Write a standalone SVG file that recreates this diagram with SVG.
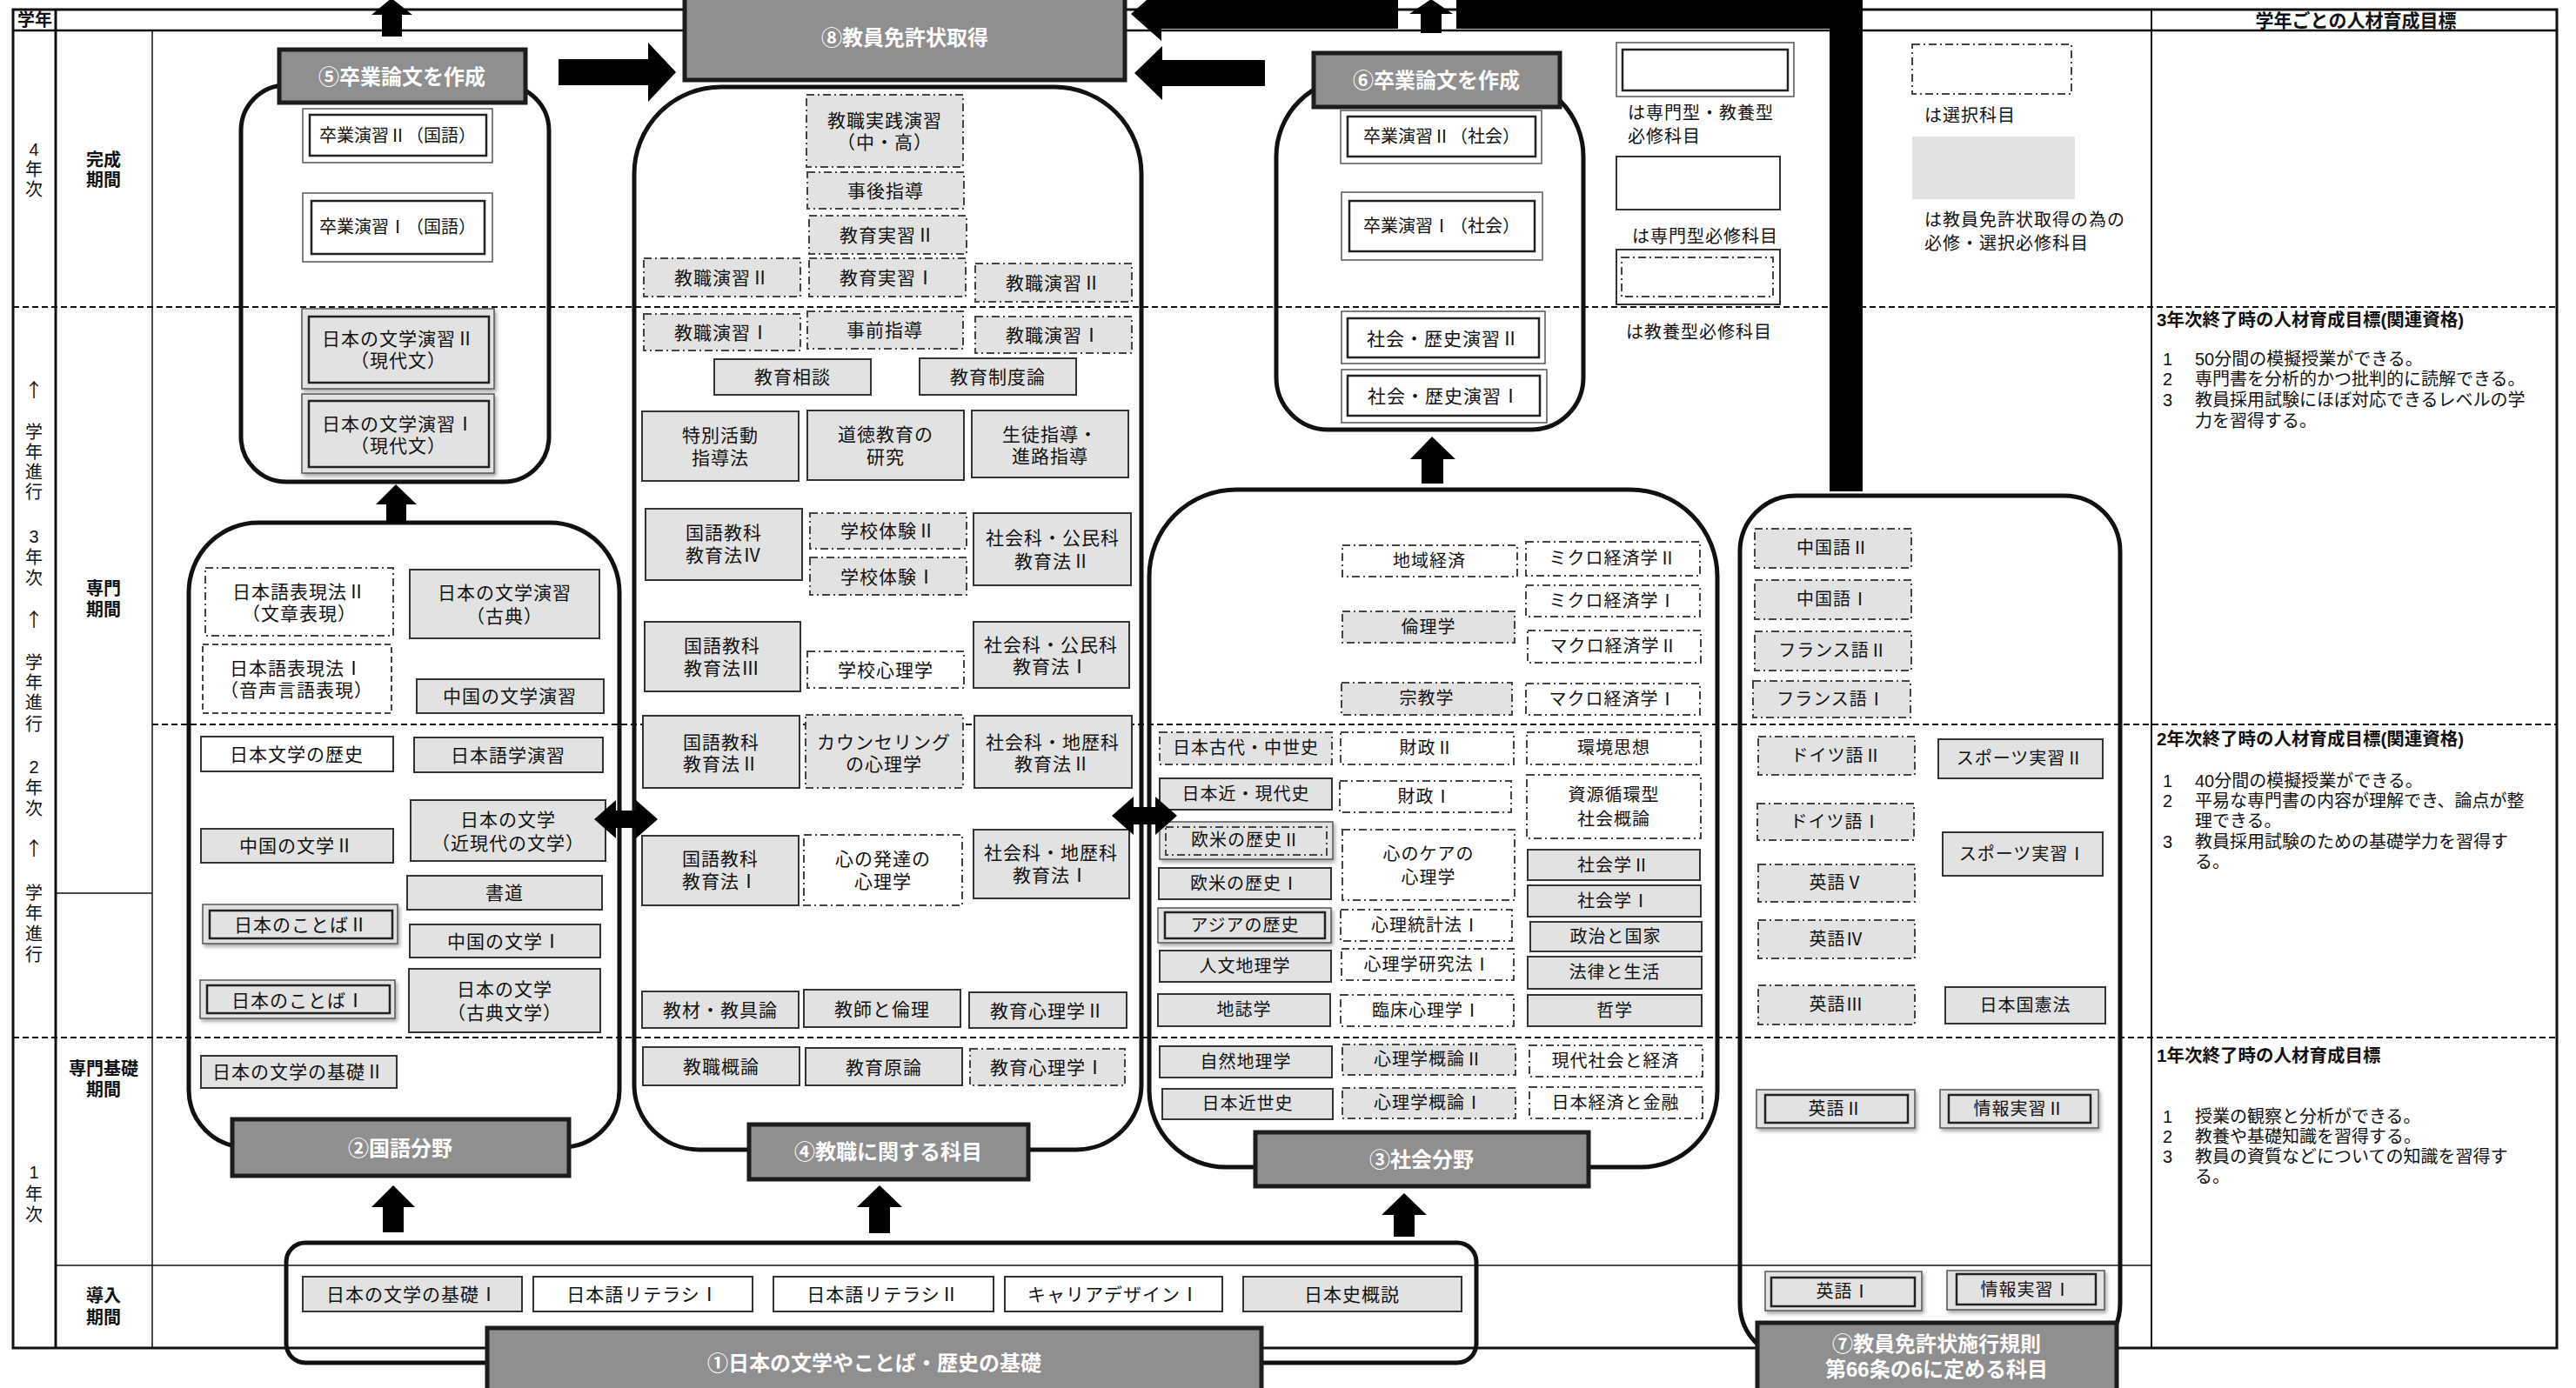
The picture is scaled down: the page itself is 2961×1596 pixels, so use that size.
<svg xmlns="http://www.w3.org/2000/svg" width="2961" height="1596" viewBox="0 0 2961 1596">
<style>
text{font-family:"Liberation Sans","Noto Sans CJK JP",sans-serif;fill:#111}
.t{font-size:21px;text-anchor:middle;dominant-baseline:central;letter-spacing:1px}
.s{font-size:20px;text-anchor:middle;dominant-baseline:central;letter-spacing:1px}
.g{fill:#e1e2e1;stroke:#333;stroke-width:2}
.w{fill:#fff;stroke:#333;stroke-width:2}
.gd{fill:#e1e2e1;stroke:#444;stroke-width:2;stroke-dasharray:9 4 2 4}
.wd{fill:#fff;stroke:#444;stroke-width:2;stroke-dasharray:9 4 2 4}
.wdash{fill:#fff;stroke:#444;stroke-width:2;stroke-dasharray:7 4}
.o{fill:#fff;stroke:#555;stroke-width:1.5}
.og{fill:#e1e2e1;stroke:#555;stroke-width:1.5}
.in{fill:none;stroke:#222;stroke-width:2.5}
.ind{fill:none;stroke:#444;stroke-width:2;stroke-dasharray:9 4 2 4}
.dk{fill:#8f8f8f;stroke:#1c1c1c;stroke-width:5}
.tw{font-size:24px;font-weight:700;fill:#fff;text-anchor:middle;dominant-baseline:central}
.ct{fill:none;stroke:#111;stroke-width:5}
.ln{stroke:#111;stroke-width:1.5;fill:none}
.lb{stroke:#111;stroke-width:3;fill:none}
.dl{stroke:#111;stroke-width:2;stroke-dasharray:7 4;fill:none}
.ar{fill:#000}
.lab{font-size:20px;text-anchor:middle;dominant-baseline:central}
.up{font-family:"Noto Sans CJK JP",sans-serif;font-size:22px}
.labb{font-size:20px;font-weight:700;text-anchor:middle;dominant-baseline:central}
.goal{font-size:20px;dominant-baseline:central}
.goalh{font-size:20.5px;font-weight:700;dominant-baseline:central}
.leg{font-size:20px;dominant-baseline:central;letter-spacing:1px}
</style>
<defs>
<filter id="sh" x="-10%" y="-10%" width="130%" height="140%"><feDropShadow dx="2" dy="3" stdDeviation="2" flood-opacity="0.35"/></filter>
</defs>
<rect width="2961" height="1596" fill="#fff"/>

<g id="table">
<rect x="15" y="11" width="2924" height="1539" fill="none" stroke="#111" stroke-width="3"/>
<line x1="15" y1="35" x2="2939" y2="35" stroke="#111" stroke-width="2.5"/>
<line x1="64" y1="11" x2="64" y2="1550" class="lb"/>
<line x1="175" y1="35" x2="175" y2="1550" class="ln"/>
<line x1="2473" y1="11" x2="2473" y2="1550" stroke="#111" stroke-width="2"/>
<line x1="15" y1="353" x2="2939" y2="353" class="dl"/>
<line x1="175" y1="833" x2="2939" y2="833" class="dl"/>
<line x1="15" y1="1193" x2="2939" y2="1193" class="dl"/>
<line x1="64" y1="1027" x2="175" y2="1027" class="ln"/>
<line x1="64" y1="1455" x2="2473" y2="1455" class="ln"/>
<text class="labb" x="40" y="23">学年</text>
<text class="labb" x="2708" y="23" style="font-size:21px">学年ごとの人材育成目標</text>
<text class="lab"><tspan x="39" y="172">4</tspan><tspan x="39" y="195">年</tspan><tspan x="39" y="218">次</tspan></text>
<text class="lab"><tspan class="up" x="39" y="446">↑</tspan><tspan x="39" y="497">学</tspan><tspan x="39" y="520">年</tspan><tspan x="39" y="543">進</tspan><tspan x="39" y="566">行</tspan><tspan x="39" y="617">3</tspan><tspan x="39" y="641">年</tspan><tspan x="39" y="665">次</tspan><tspan class="up" x="39" y="710">↑</tspan><tspan x="39" y="762">学</tspan><tspan x="39" y="785">年</tspan><tspan x="39" y="808">進</tspan><tspan x="39" y="833">行</tspan><tspan x="39" y="882">2</tspan><tspan x="39" y="906">年</tspan><tspan x="39" y="930">次</tspan><tspan class="up" x="39" y="973">↑</tspan><tspan x="39" y="1027">学</tspan><tspan x="39" y="1050">年</tspan><tspan x="39" y="1074">進</tspan><tspan x="39" y="1098">行</tspan></text>
<text class="lab"><tspan x="39" y="1348">1</tspan><tspan x="39" y="1373">年</tspan><tspan x="39" y="1397">次</tspan></text>
<text class="labb"><tspan x="119" y="184">完成</tspan><tspan x="119" y="207">期間</tspan></text>
<text class="labb"><tspan x="119" y="677">専門</tspan><tspan x="119" y="701">期間</tspan></text>
<text class="labb"><tspan x="119" y="1229">専門基礎</tspan><tspan x="119" y="1253">期間</tspan></text>
<text class="labb"><tspan x="119" y="1490">導入</tspan><tspan x="119" y="1515">期間</tspan></text>
</g>

<g id="goals">
<text class="goalh" x="2479" y="367">3年次終了時の人材育成目標(関連資格)</text>
<text class="goal"><tspan x="2486" y="413">1</tspan><tspan x="2523" y="413">50分間の模擬授業ができる。</tspan><tspan x="2486" y="436">2</tspan><tspan x="2523" y="436">専門書を分析的かつ批判的に読解できる。</tspan><tspan x="2486" y="460">3</tspan><tspan x="2523" y="460">教員採用試験にほぼ対応できるレベルの学</tspan><tspan x="2523" y="484">力を習得する。</tspan></text>
<text class="goalh" x="2479" y="849">2年次終了時の人材育成目標(関連資格)</text>
<text class="goal"><tspan x="2486" y="898">1</tspan><tspan x="2523" y="898">40分間の模擬授業ができる。</tspan><tspan x="2486" y="921">2</tspan><tspan x="2523" y="921">平易な専門書の内容が理解でき、論点が整</tspan><tspan x="2523" y="944">理できる。</tspan><tspan x="2486" y="968">3</tspan><tspan x="2523" y="968">教員採用試験のための基礎学力を習得す</tspan><tspan x="2523" y="991">る。</tspan></text>
<text class="goalh" x="2479" y="1213">1年次終了時の人材育成目標</text>
<text class="goal"><tspan x="2486" y="1284">1</tspan><tspan x="2523" y="1284">授業の観察と分析ができる。</tspan><tspan x="2486" y="1307">2</tspan><tspan x="2523" y="1307">教養や基礎知識を習得する。</tspan><tspan x="2486" y="1330">3</tspan><tspan x="2523" y="1330">教員の資質などについての知識を習得す</tspan><tspan x="2523" y="1353">る。</tspan></text>
</g>

<g id="legend">
<rect class="o" x="1858" y="49" width="204" height="62"/><rect class="in" x="1865" y="57" width="190" height="47"/>
<text class="leg"><tspan x="1871" y="130">は専門型・教養型</tspan><tspan x="1871" y="157">必修科目</tspan></text>
<rect class="w" x="1858" y="180" width="188" height="61"/>
<text class="leg" x="1876" y="272">は専門型必修科目</text>
<rect class="w" x="1858" y="287" width="188" height="63"/><rect class="ind" x="1864" y="296" width="174" height="45"/>
<text class="leg" x="1869" y="382">は教養型必修科目</text>
<rect class="wd" x="2198" y="51" width="183" height="57"/>
<text class="leg" x="2212" y="133">は選択科目</text>
<rect x="2198" y="157" width="187" height="72" fill="#e1e2e1"/>
<text class="leg"><tspan x="2212" y="253">は教員免許状取得の為の</tspan><tspan x="2212" y="280">必修・選択必修科目</tspan></text>
</g>

<g id="c5">
<rect class="ct" x="277" y="98" width="354" height="456" rx="52"/>
<rect class="dk" x="321" y="57" width="283" height="61"/>
<text class="tw" x="462" y="88">⑤卒業論文を作成</text>
</g>
<g id="n-sotsu2-kokugo"><rect class="o" x="348" y="125" width="218" height="62"/><rect class="in" x="356" y="132" width="203" height="47"/><text class="s" x="457" y="156" style="letter-spacing:0">卒業演習Ⅱ（国語）</text></g>
<g id="n-sotsu1-kokugo"><rect class="o" x="348" y="222" width="218" height="79"/><rect class="in" x="358" y="231" width="199" height="61"/><text class="s" x="457" y="261" style="letter-spacing:0">卒業演習Ⅰ（国語）</text></g>
<g id="n-bungaku-en2"><rect class="og" filter="url(#sh)" x="347" y="355" width="221" height="92"/><rect class="in" x="355" y="364" width="207" height="76"/><text class="t"><tspan x="458" y="389">日本の文学演習Ⅱ</tspan><tspan x="458" y="414">（現代文）</tspan></text></g>
<g id="n-bungaku-en1"><rect class="og" filter="url(#sh)" x="347" y="453" width="221" height="91"/><rect class="in" x="355" y="461" width="207" height="76"/><text class="t"><tspan x="458" y="487">日本の文学演習Ⅰ</tspan><tspan x="458" y="512">（現代文）</tspan></text></g>

<g id="c2">
<path class="ct" d="M217,681 A80,80 0 0 1 297,601 L632,601 A80,80 0 0 1 712,681 L712,1253 A66,66 0 0 1 646,1319 L283,1319 A66,66 0 0 1 217,1253 Z"/>
<rect class="dk" x="267" y="1287" width="387" height="65"/>
<text class="tw" x="460" y="1320">②国語分野</text>
</g>
<g id="n-hyogen2"><rect class="wd" x="236" y="653" width="216" height="78"/><text class="t"><tspan x="344" y="680">日本語表現法Ⅱ</tspan><tspan x="344" y="705">（文章表現）</tspan></text></g>
<g id="n-hyogen1"><rect class="wdash" x="233" y="741" width="217" height="79"/><text class="t"><tspan x="341" y="768">日本語表現法Ⅰ</tspan><tspan x="341" y="793">（音声言語表現）</tspan></text></g>
<g id="n-koten-en"><rect class="g" x="471" y="655" width="218" height="79"/><text class="t"><tspan x="580" y="681">日本の文学演習</tspan><tspan x="580" y="708">（古典）</tspan></text></g>
<g id="n-chugoku-en"><rect class="g" x="479" y="781" width="215" height="39"/><text class="t" x="586" y="800">中国の文学演習</text></g>
<g id="n-rekishi"><rect class="w" x="231" y="847" width="221" height="40"/><text class="t" x="341" y="867">日本文学の歴史</text></g>
<g id="n-gogaku"><rect class="g" x="476" y="848" width="217" height="40"/><text class="t" x="584" y="868">日本語学演習</text></g>
<g id="n-kingendai"><rect class="g" x="472" y="920" width="224" height="70"/><text class="t"><tspan x="584" y="942">日本の文学</tspan><tspan x="584" y="969">（近現代の文学）</tspan></text></g>
<g id="n-chugoku2"><rect class="g" x="231" y="953" width="221" height="39"/><text class="t" x="341" y="972">中国の文学Ⅱ</text></g>
<g id="n-shodo"><rect class="g" x="468" y="1007" width="224" height="39"/><text class="t" x="580" y="1026">書道</text></g>
<g id="n-kotoba2"><rect class="og" filter="url(#sh)" x="233" y="1040" width="224" height="45"/><rect class="in" x="241" y="1047" width="210" height="32"/><text class="t" x="346" y="1063">日本のことばⅡ</text></g>
<g id="n-chugoku1"><rect class="g" x="471" y="1063" width="219" height="38"/><text class="t" x="580" y="1082">中国の文学Ⅰ</text></g>
<g id="n-kotoba1"><rect class="og" filter="url(#sh)" x="230" y="1127" width="224" height="44"/><rect class="in" x="238" y="1133" width="210" height="32"/><text class="t" x="343" y="1150">日本のことばⅠ</text></g>
<g id="n-kotenbun"><rect class="g" x="470" y="1114" width="220" height="73"/><text class="t"><tspan x="580" y="1137">日本の文学</tspan><tspan x="580" y="1164">（古典文学）</tspan></text></g>
<g id="n-kiso2"><rect class="g" x="231" y="1214" width="225" height="37"/><text class="t" x="343" y="1232">日本の文学の基礎Ⅱ</text></g>

<g id="c4">
<path class="ct" d="M729,200 A100,100 0 0 1 829,100 L1212,100 A100,100 0 0 1 1312,200 L1312,1247 A75,75 0 0 1 1237,1322 L804,1322 A75,75 0 0 1 729,1247 Z"/>
<rect class="dk" x="861" y="1293" width="321" height="63"/>
<text class="tw" x="1021" y="1324">④教職に関する科目</text>
</g>
<g id="n-jissen"><rect class="gd" x="927" y="109" width="180" height="83"/><text class="t"><tspan x="1017" y="138">教職実践演習</tspan><tspan x="1017" y="163">（中・高）</tspan></text></g>
<g id="n-jigo"><rect class="gd" x="928" y="198" width="180" height="42"/><text class="t" x="1018" y="219">事後指導</text></g>
<g id="n-jisshu2"><rect class="gd" x="930" y="248" width="181" height="44"/><text class="t" x="1020" y="270">教育実習Ⅱ</text></g>
<g id="n-kyoshoku2a"><rect class="gd" x="740" y="297" width="180" height="44"/><text class="t" x="830" y="319">教職演習Ⅱ</text></g>
<g id="n-jisshu1"><rect class="gd" x="930" y="297" width="180" height="44"/><text class="t" x="1020" y="319">教育実習Ⅰ</text></g>
<g id="n-kyoshoku2b"><rect class="gd" x="1121" y="303" width="180" height="44"/><text class="t" x="1211" y="325">教職演習Ⅱ</text></g>
<g id="n-kyoshoku1a"><rect class="gd" x="740" y="361" width="180" height="42"/><text class="t" x="830" y="382">教職演習Ⅰ</text></g>
<g id="n-jizen"><rect class="gd" x="928" y="358" width="179" height="43"/><text class="t" x="1017" y="379">事前指導</text></g>
<g id="n-kyoshoku1b"><rect class="gd" x="1121" y="364" width="180" height="42"/><text class="t" x="1211" y="385">教職演習Ⅰ</text></g>
<g id="n-sodan"><rect class="g" x="821" y="413" width="180" height="41"/><text class="t" x="911" y="433">教育相談</text></g>
<g id="n-seido"><rect class="g" x="1057" y="412" width="180" height="42"/><text class="t" x="1147" y="433">教育制度論</text></g>
<g id="n-tokkatsu"><rect class="g" x="738" y="473" width="180" height="80"/><text class="t"><tspan x="828" y="500">特別活動</tspan><tspan x="828" y="526">指導法</tspan></text></g>
<g id="n-dotoku"><rect class="g" x="928" y="472" width="180" height="80"/><text class="t"><tspan x="1018" y="499">道徳教育の</tspan><tspan x="1018" y="525">研究</tspan></text></g>
<g id="n-seito"><rect class="g" x="1117" y="472" width="180" height="77"/><text class="t"><tspan x="1207" y="499">生徒指導・</tspan><tspan x="1207" y="524">進路指導</tspan></text></g>
<g id="n-kokugo4"><rect class="g" x="742" y="585" width="180" height="82"/><text class="t"><tspan x="832" y="612">国語教科</tspan><tspan x="832" y="638">教育法Ⅳ</tspan></text></g>
<g id="n-taiken2"><rect class="gd" x="931" y="590" width="180" height="41"/><text class="t" x="1021" y="610">学校体験Ⅱ</text></g>
<g id="n-komin2"><rect class="g" x="1119" y="590" width="181" height="83"/><text class="t"><tspan x="1210" y="618">社会科・公民科</tspan><tspan x="1210" y="645">教育法Ⅱ</tspan></text></g>
<g id="n-taiken1"><rect class="gd" x="931" y="641" width="180" height="43"/><text class="t" x="1021" y="663">学校体験Ⅰ</text></g>
<g id="n-kokugo3"><rect class="g" x="741" y="715" width="179" height="80"/><text class="t"><tspan x="830" y="742">国語教科</tspan><tspan x="830" y="768">教育法Ⅲ</tspan></text></g>
<g id="n-gakkoshinri"><rect class="wd" x="928" y="749" width="180" height="42"/><text class="t" x="1018" y="770">学校心理学</text></g>
<g id="n-komin1"><rect class="g" x="1119" y="715" width="179" height="76"/><text class="t"><tspan x="1208" y="741">社会科・公民科</tspan><tspan x="1208" y="766">教育法Ⅰ</tspan></text></g>
<g id="n-kokugo2"><rect class="g" x="739" y="823" width="180" height="83"/><text class="t"><tspan x="829" y="853">国語教科</tspan><tspan x="829" y="878">教育法Ⅱ</tspan></text></g>
<g id="n-counsel"><rect class="gd" x="926" y="822" width="181" height="84"/><text class="t"><tspan x="1016" y="853">カウンセリング</tspan><tspan x="1016" y="878">の心理学</tspan></text></g>
<g id="n-chireki2"><rect class="g" x="1120" y="823" width="181" height="83"/><text class="t"><tspan x="1210" y="853">社会科・地歴科</tspan><tspan x="1210" y="878">教育法Ⅱ</tspan></text></g>
<g id="n-kokugo1"><rect class="g" x="738" y="961" width="180" height="80"/><text class="t"><tspan x="828" y="987">国語教科</tspan><tspan x="828" y="1013">教育法Ⅰ</tspan></text></g>
<g id="n-hattatsu"><rect class="wd" x="924" y="960" width="182" height="81"/><text class="t"><tspan x="1015" y="987">心の発達の</tspan><tspan x="1015" y="1013">心理学</tspan></text></g>
<g id="n-chireki1"><rect class="g" x="1119" y="954" width="179" height="79"/><text class="t"><tspan x="1208" y="980">社会科・地歴科</tspan><tspan x="1208" y="1006">教育法Ⅰ</tspan></text></g>
<g id="n-kyozai"><rect class="g" x="738" y="1140" width="180" height="42"/><text class="t" x="828" y="1161">教材・教具論</text></g>
<g id="n-kyoshi"><rect class="g" x="924" y="1138" width="180" height="43"/><text class="t" x="1014" y="1160">教師と倫理</text></g>
<g id="n-kshinri2"><rect class="g" x="1114" y="1141" width="181" height="41"/><text class="t" x="1204" y="1162">教育心理学Ⅱ</text></g>
<g id="n-gairon"><rect class="g" x="739" y="1204" width="180" height="44"/><text class="t" x="829" y="1226">教職概論</text></g>
<g id="n-genron"><rect class="g" x="926" y="1205" width="180" height="43"/><text class="t" x="1016" y="1227">教育原論</text></g>
<g id="n-kshinri1"><rect class="gd" x="1115" y="1206" width="178" height="42"/><text class="t" x="1204" y="1227">教育心理学Ⅰ</text></g>

<g id="c6">
<path class="ct" d="M1467,180 A90,90 0 0 1 1557,90 L1730,90 A90,90 0 0 1 1820,180 L1820,434 A60,60 0 0 1 1760,494 L1527,494 A60,60 0 0 1 1467,434 Z"/>
<rect class="dk" x="1510" y="61" width="283" height="62"/>
<text class="tw" x="1651" y="92">⑥卒業論文を作成</text>
</g>
<g id="n-sotsu2-shakai"><rect class="o" x="1541" y="127" width="231" height="61"/><rect class="in" x="1549" y="134" width="216" height="46"/><text class="s" x="1657" y="157" style="letter-spacing:0">卒業演習Ⅱ（社会）</text></g>
<g id="n-sotsu1-shakai"><rect class="o" x="1542" y="221" width="231" height="78"/><rect class="in" x="1551" y="231" width="213" height="58"/><text class="s" x="1657" y="260" style="letter-spacing:0">卒業演習Ⅰ（社会）</text></g>
<g id="n-shareki2"><rect class="o" x="1542" y="358" width="234" height="60"/><rect class="in" x="1549" y="366" width="220" height="45"/><text class="t" x="1659" y="389">社会・歴史演習Ⅱ</text></g>
<g id="n-shareki1"><rect class="o" x="1542" y="425" width="236" height="61"/><rect class="in" x="1549" y="432" width="221" height="46"/><text class="t" x="1660" y="455">社会・歴史演習Ⅰ</text></g>

<g id="c3">
<path class="ct" d="M1321,663 A100,100 0 0 1 1421,563 L1874,563 A100,100 0 0 1 1974,663 L1974,1254 A88,88 0 0 1 1886,1342 L1409,1342 A88,88 0 0 1 1321,1254 Z"/>
<rect class="dk" x="1443" y="1302" width="383" height="62"/>
<text class="tw" x="1634" y="1333">③社会分野</text>
</g>
<g id="n-chiiki"><rect class="wd" x="1543" y="627" width="201" height="36"/><text class="s" x="1643" y="645">地域経済</text></g>
<g id="n-micro2"><rect class="wd" x="1754" y="623" width="200" height="39"/><text class="s" x="1854" y="642">ミクロ経済学Ⅱ</text></g>
<g id="n-micro1"><rect class="wd" x="1754" y="673" width="200" height="36"/><text class="s" x="1854" y="691">ミクロ経済学Ⅰ</text></g>
<g id="n-rinri"><rect class="gd" x="1543" y="703" width="198" height="36"/><text class="s" x="1642" y="721">倫理学</text></g>
<g id="n-macro2"><rect class="wd" x="1756" y="725" width="199" height="37"/><text class="s" x="1855" y="743">マクロ経済学Ⅱ</text></g>
<g id="n-shukyo"><rect class="gd" x="1542" y="785" width="196" height="37"/><text class="s" x="1640" y="803">宗教学</text></g>
<g id="n-macro1"><rect class="wd" x="1754" y="786" width="200" height="36"/><text class="s" x="1854" y="804">マクロ経済学Ⅰ</text></g>
<g id="n-kodai"><rect class="gd" x="1333" y="842" width="198" height="37"/><text class="s" x="1432" y="860">日本古代・中世史</text></g>
<g id="n-zaisei2"><rect class="wd" x="1541" y="842" width="199" height="37"/><text class="s" x="1640" y="860">財政Ⅱ</text></g>
<g id="n-kankyo"><rect class="wd" x="1755" y="842" width="200" height="37"/><text class="s" x="1855" y="860">環境思想</text></g>
<g id="n-kingendaishi"><rect class="g" x="1333" y="895" width="198" height="36"/><text class="s" x="1432" y="913">日本近・現代史</text></g>
<g id="n-zaisei1"><rect class="wd" x="1540" y="898" width="197" height="36"/><text class="s" x="1638" y="916">財政Ⅰ</text></g>
<g id="n-shigen"><rect class="wd" x="1755" y="891" width="200" height="73"/><text class="s"><tspan x="1855" y="914">資源循環型</tspan><tspan x="1855" y="942">社会概論</tspan></text></g>
<g id="n-obei2"><rect class="og" filter="url(#sh)" x="1333" y="945" width="199" height="43"/><rect class="ind" x="1340" y="951" width="185" height="32"/><text class="s" x="1432" y="966">欧米の歴史Ⅱ</text></g>
<g id="n-care"><rect class="wd" x="1543" y="954" width="198" height="81"/><text class="s"><tspan x="1642" y="982">心のケアの</tspan><tspan x="1642" y="1009">心理学</tspan></text></g>
<g id="n-shakai2"><rect class="g" x="1756" y="977" width="198" height="35"/><text class="s" x="1855" y="995">社会学Ⅱ</text></g>
<g id="n-obei1"><rect class="g" x="1332" y="998" width="198" height="36"/><text class="s" x="1431" y="1016">欧米の歴史Ⅰ</text></g>
<g id="n-shakai1"><rect class="g" x="1756" y="1018" width="199" height="36"/><text class="s" x="1855" y="1036">社会学Ⅰ</text></g>
<g id="n-asia"><rect class="og" filter="url(#sh)" x="1331" y="1044" width="199" height="40"/><rect class="in" x="1339" y="1049" width="184" height="30"/><text class="s" x="1431" y="1064">アジアの歴史</text></g>
<g id="n-tokei"><rect class="wd" x="1541" y="1046" width="197" height="36"/><text class="s" x="1639" y="1064">心理統計法Ⅰ</text></g>
<g id="n-seiji"><rect class="g" x="1759" y="1060" width="197" height="34"/><text class="s" x="1857" y="1077">政治と国家</text></g>
<g id="n-jinbun"><rect class="g" x="1333" y="1093" width="197" height="36"/><text class="s" x="1431" y="1111">人文地理学</text></g>
<g id="n-kenkyuho"><rect class="wd" x="1542" y="1091" width="198" height="36"/><text class="s" x="1641" y="1109">心理学研究法Ⅰ</text></g>
<g id="n-horitsu"><rect class="g" x="1756" y="1100" width="200" height="37"/><text class="s" x="1856" y="1118">法律と生活</text></g>
<g id="n-chishi"><rect class="g" x="1331" y="1143" width="198" height="37"/><text class="s" x="1430" y="1161">地誌学</text></g>
<g id="n-rinsho"><rect class="wd" x="1541" y="1144" width="199" height="36"/><text class="s" x="1640" y="1162">臨床心理学Ⅰ</text></g>
<g id="n-tetsugaku"><rect class="g" x="1756" y="1144" width="200" height="36"/><text class="s" x="1856" y="1162">哲学</text></g>
<g id="n-shizen"><rect class="g" x="1333" y="1203" width="198" height="36"/><text class="s" x="1432" y="1221">自然地理学</text></g>
<g id="n-gairon2"><rect class="gd" x="1543" y="1201" width="199" height="35"/><text class="s" x="1642" y="1218">心理学概論Ⅱ</text></g>
<g id="n-gendai"><rect class="wd" x="1758" y="1202" width="199" height="36"/><text class="s" x="1857" y="1220">現代社会と経済</text></g>
<g id="n-kinsei"><rect class="g" x="1336" y="1252" width="196" height="35"/><text class="s" x="1434" y="1269">日本近世史</text></g>
<g id="n-gairon1"><rect class="gd" x="1543" y="1251" width="199" height="35"/><text class="s" x="1642" y="1268">心理学概論Ⅰ</text></g>
<g id="n-kinyu"><rect class="wd" x="1758" y="1250" width="199" height="36"/><text class="s" x="1857" y="1268">日本経済と金融</text></g>

<g id="c7">
<rect class="ct" x="2000" y="570" width="437" height="993" rx="64"/>
<rect class="dk" x="2020" y="1521" width="413" height="90"/>
<text class="tw"><tspan x="2226" y="1545">⑦教員免許状施行規則</tspan><tspan x="2226" y="1574">第66条の6に定める科目</tspan></text>
</g>
<g id="n-chn2"><rect class="gd" x="2017" y="608" width="180" height="45"/><text class="s" x="2107" y="630">中国語Ⅱ</text></g>
<g id="n-chn1"><rect class="gd" x="2017" y="667" width="180" height="45"/><text class="s" x="2107" y="689">中国語Ⅰ</text></g>
<g id="n-fr2"><rect class="gd" x="2017" y="726" width="180" height="45"/><text class="s" x="2107" y="748">フランス語Ⅱ</text></g>
<g id="n-fr1"><rect class="gd" x="2015" y="783" width="181" height="42"/><text class="s" x="2105" y="804">フランス語Ⅰ</text></g>
<g id="n-de2"><rect class="gd" x="2021" y="847" width="180" height="44"/><text class="s" x="2111" y="869">ドイツ語Ⅱ</text></g>
<g id="n-sport2"><rect class="g" x="2228" y="850" width="189" height="45"/><text class="s" x="2322" y="872">スポーツ実習Ⅱ</text></g>
<g id="n-de1"><rect class="gd" x="2020" y="924" width="180" height="42"/><text class="s" x="2110" y="945">ドイツ語Ⅰ</text></g>
<g id="n-sport1"><rect class="g" x="2233" y="957" width="184" height="50"/><text class="s" x="2325" y="982">スポーツ実習Ⅰ</text></g>
<g id="n-en5"><rect class="gd" x="2021" y="994" width="180" height="43"/><text class="s" x="2111" y="1015">英語Ⅴ</text></g>
<g id="n-en4"><rect class="gd" x="2021" y="1058" width="180" height="44"/><text class="s" x="2111" y="1080">英語Ⅳ</text></g>
<g id="n-en3"><rect class="gd" x="2021" y="1133" width="180" height="45"/><text class="s" x="2111" y="1155">英語Ⅲ</text></g>
<g id="n-kenpo"><rect class="g" x="2236" y="1135" width="184" height="42"/><text class="s" x="2328" y="1156">日本国憲法</text></g>
<g id="n-en2"><rect class="og" filter="url(#sh)" x="2019" y="1253" width="182" height="44"/><rect class="in" x="2029" y="1259" width="164" height="32"/><text class="s" x="2110" y="1275">英語Ⅱ</text></g>
<g id="n-joho2"><rect class="og" filter="url(#sh)" x="2230" y="1253" width="182" height="44"/><rect class="in" x="2240" y="1259" width="163" height="32"/><text class="s" x="2321" y="1275">情報実習Ⅱ</text></g>
<g id="n-en1"><rect class="og" filter="url(#sh)" x="2029" y="1462" width="180" height="45"/><rect class="in" x="2036" y="1469" width="165" height="33"/><text class="s" x="2119" y="1485">英語Ⅰ</text></g>
<g id="n-joho1"><rect class="og" filter="url(#sh)" x="2238" y="1461" width="181" height="45"/><rect class="in" x="2249" y="1465" width="160" height="35"/><text class="s" x="2329" y="1483">情報実習Ⅰ</text></g>

<g id="c1">
<rect class="ct" x="329" y="1429" width="1368" height="138" rx="22"/>
<rect class="dk" x="560" y="1527" width="890" height="85"/>
<text class="tw" x="1005" y="1567">①日本の文学やことば・歴史の基礎</text>
</g>
<g id="n-kiso1"><rect class="g" x="348" y="1468" width="252" height="40"/><text class="t" x="474" y="1488">日本の文学の基礎Ⅰ</text></g>
<g id="n-lit1"><rect class="w" x="613" y="1468" width="252" height="40"/><text class="t" x="739" y="1488">日本語リテラシⅠ</text></g>
<g id="n-lit2"><rect class="w" x="889" y="1468" width="253" height="40"/><text class="t" x="1015" y="1488">日本語リテラシⅡ</text></g>
<g id="n-career"><rect class="w" x="1155" y="1468" width="250" height="40"/><text class="t" x="1280" y="1488">キャリアデザインⅠ</text></g>
<g id="n-nihonshi"><rect class="g" x="1429" y="1468" width="251" height="40"/><text class="t" x="1554" y="1488">日本史概説</text></g>

<g id="n8">
<rect class="dk" x="787" y="-5" width="506" height="97"/>
<text class="tw" x="1040" y="43">⑧教員免許状取得</text>
</g>

<g id="connectors">
<path class="ar" d="M1300,16 L1335,-15 L1335,0 L1607,0 L1607,33 L1335,33 L1335,47 Z"/>
<path class="ar" d="M1674,0 L2141,0 L2141,565 L2103,565 L2103,33 L1674,33 Z"/>
<path class="ar" d="M1645,-1 L1670,16 L1657,16 L1657,38 L1633,38 L1633,16 L1620,16 Z"/>
<path class="ar" d="M450,-2 L474,17 L462,17 L462,42 L439,42 L439,17 L427,17 Z"/>
<path class="ar" d="M642,68 L745,68 L745,49 L777,83 L745,117 L745,98 L642,98 Z"/>
<path class="ar" d="M1454,69 L1336,69 L1336,53 L1304,84 L1336,115 L1336,99 L1454,99 Z"/>
<path class="ar" d="M455,557 L479,580 L467,580 L467,601 L444,601 L444,580 L432,580 Z"/>
<path class="ar" d="M1646,502 L1673,528 L1659,528 L1659,556 L1634,556 L1634,528 L1621,528 Z"/>
<path class="ar" d="M452,1363 L477,1388 L464,1388 L464,1417 L440,1417 L440,1388 L427,1388 Z"/>
<path class="ar" d="M1011,1363 L1037,1388 L1023,1388 L1023,1418 L999,1418 L999,1388 L985,1388 Z"/>
<path class="ar" d="M1614,1372 L1640,1397 L1626,1397 L1626,1422 L1602,1422 L1602,1397 L1588,1397 Z"/>
<path class="ar" d="M683,942 L708,920 L708,932 L731,932 L731,920 L756,942 L731,964 L731,952 L708,952 L708,964 Z"/>
<path class="ar" d="M1278,938 L1303,916 L1303,928 L1328,928 L1328,916 L1353,938 L1328,960 L1328,948 L1303,948 L1303,960 Z"/>
</g>
</svg>
